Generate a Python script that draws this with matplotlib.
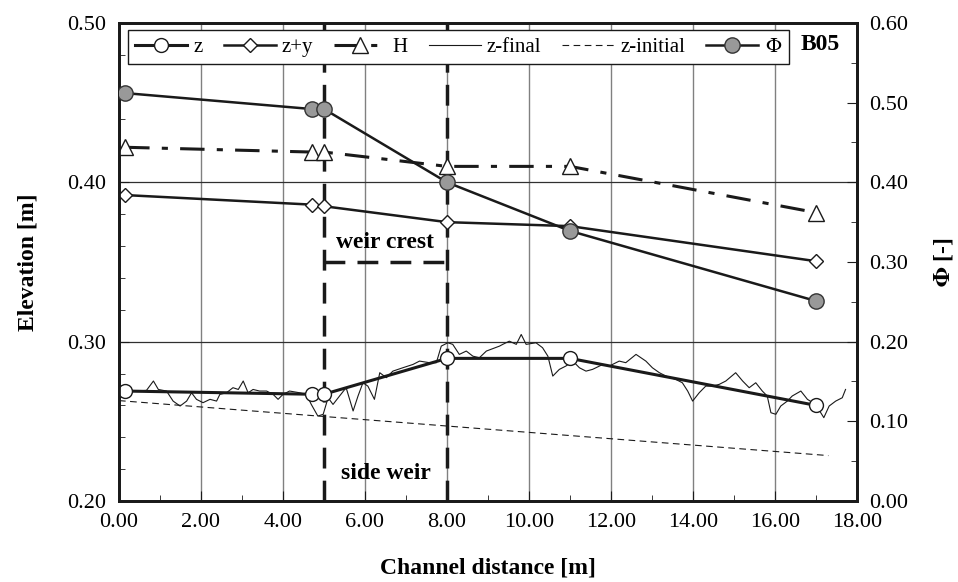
import matplotlib
matplotlib.use("Agg")
import matplotlib.pyplot as plt
from matplotlib.ticker import MultipleLocator, FormatStrFormatter

plt.rcParams['font.family'] = ['Liberation Serif', 'DejaVu Serif']
plt.rcParams['mathtext.fontset'] = 'stix'

# measured stations
x_pts = [0.15, 4.7, 5.0, 8.0, 11.0, 17.0]
z = [0.269, 0.267, 0.267, 0.2895, 0.2895, 0.260]
z_y = [0.392, 0.386, 0.385, 0.375, 0.3725, 0.3505]
H = [0.422, 0.419, 0.419, 0.410, 0.410, 0.381]
phi = [0.512, 0.492, 0.492, 0.400, 0.339, 0.251]

# bed profile after the run
xf = [0.02, 0.35, 0.67, 0.84, 0.96, 1.16, 1.32, 1.49, 1.65, 1.77, 1.89, 2.05,
      2.22, 2.38, 2.46, 2.62, 2.78, 2.91, 3.03, 3.15, 3.27, 3.43, 3.60, 3.76,
      3.88, 4.00, 4.16, 4.41, 4.57, 4.69, 4.85, 4.98, 5.10, 5.22, 5.38, 5.54,
      5.71, 5.83, 5.95, 6.07, 6.23, 6.36, 6.52, 6.68, 6.92, 7.17, 7.33, 7.57,
      7.74, 7.86, 8.02, 8.14, 8.30, 8.47, 8.63, 8.79, 8.96, 9.28, 9.36, 9.52,
      9.69, 9.81, 9.93, 10.17, 10.33, 10.46, 10.58, 10.74, 10.90, 11.07, 11.23,
      11.39, 11.55, 11.80, 11.96, 12.20, 12.36, 12.61, 12.85, 13.01, 13.18,
      13.34, 13.58, 13.74, 13.87, 13.99, 14.15, 14.31, 14.47, 14.64, 14.80,
      15.04, 15.21, 15.37, 15.53, 15.69, 15.81, 15.90, 16.02, 16.14, 16.30,
      16.42, 16.63, 16.79, 16.99, 17.19, 17.32, 17.48, 17.64, 17.72]
zf = [0.2648, 0.2690, 0.2694, 0.2753, 0.2700, 0.2690, 0.2627, 0.2596, 0.2627,
      0.2679, 0.2638, 0.2617, 0.2638, 0.2627, 0.2669, 0.2679, 0.2711, 0.2700,
      0.2753, 0.2679, 0.2700, 0.2690, 0.2690, 0.2669, 0.2638, 0.2669, 0.2690,
      0.2679, 0.2669, 0.2606, 0.2533, 0.2544, 0.2648, 0.2606, 0.2659, 0.2711,
      0.2565, 0.2659, 0.2742, 0.2721, 0.2638, 0.2805, 0.2774, 0.2815, 0.2836,
      0.2857, 0.2878, 0.2868, 0.2868, 0.2972, 0.2993, 0.2983, 0.2920, 0.2941,
      0.2909, 0.2899, 0.2941, 0.2972, 0.2983, 0.3003, 0.2983, 0.3045, 0.2983,
      0.2993, 0.2962, 0.2909, 0.2784, 0.2826, 0.2847, 0.2878, 0.2836, 0.2815,
      0.2826, 0.2857, 0.2847, 0.2878, 0.2868, 0.2920, 0.2878, 0.2836, 0.2805,
      0.2784, 0.2763, 0.2742, 0.2690, 0.2627, 0.2679, 0.2721, 0.2721, 0.2732,
      0.2753, 0.2805, 0.2753, 0.2711, 0.2742, 0.2690, 0.2659, 0.2554, 0.2544,
      0.2596, 0.2627, 0.2659, 0.2690, 0.2638, 0.2606, 0.2523, 0.2596, 0.2627,
      0.2648, 0.2700]

# initial bed
xi = [0.0, 17.3]
zi = [0.263, 0.2285]

weir_start, weir_end, weir_crest = 5.0, 8.0, 0.35

fig = plt.figure(figsize=(9.58, 5.82), dpi=100)
ax = fig.add_axes([0.1242, 0.1392, 0.7704, 0.8213])
ax2 = ax.twinx()

# grid
for gx in range(2, 18, 2):
    ax.axvline(gx, color='#808080', lw=1.0, zorder=0)
for gy in [0.30, 0.40]:
    ax.axhline(gy, color='#303030', lw=0.9, zorder=0)

# weir
ax.plot([weir_start, weir_start], [0.20, 0.50], color='#1a1a1a', lw=2.5, dashes=(6, 3.5), zorder=2)
ax.plot([weir_end, weir_end], [0.20, 0.50], color='#1a1a1a', lw=2.5, dashes=(6, 3.5), zorder=2)
ax.plot([weir_start, weir_end], [weir_crest, weir_crest], color='#1a1a1a', lw=2.5, dashes=(6, 3.5), zorder=2)
ax.text(6.5, 0.362, 'weir crest', ha='center', va='center', fontsize=17, fontweight='bold')
ax.text(6.5, 0.2175, 'side weir', ha='center', va='center', fontsize=17, fontweight='bold')

l_zf, = ax.plot(xf, zf, color='#1a1a1a', lw=0.8, zorder=3, label='z-final')
l_zi, = ax.plot(xi, zi, color='#1a1a1a', lw=0.8, dashes=(6, 4), zorder=3, label='z-initial')
l_z, = ax.plot(x_pts, z, color='#1a1a1a', lw=2.2, marker='o', ms=10, mfc='white', mec='#1a1a1a',
               mew=1.0, zorder=5, label='z')
l_zy, = ax.plot(x_pts, z_y, color='#1a1a1a', lw=1.8, marker='D', ms=7.5, mfc='white', mec='#1a1a1a',
                mew=1.0, zorder=5, label='z+y')
l_H, = ax.plot(x_pts, H, color='#1a1a1a', lw=2.2, dashes=(8, 4, 2, 4), marker='^', ms=11, mfc='white',
               mec='#1a1a1a', mew=1.0, zorder=5, label='H')
l_phi, = ax2.plot(x_pts, phi, color='#1a1a1a', lw=1.8, marker='o', ms=11, mfc='#999999',
                  mec='#333333', mew=1.0, zorder=5, label=r'$\Phi$')

ax.set_xlim(0, 18)
ax.set_ylim(0.20, 0.50)
ax2.set_ylim(0.0, 0.60)

ax.xaxis.set_major_locator(MultipleLocator(2))
ax.xaxis.set_minor_locator(MultipleLocator(1))
ax.yaxis.set_major_locator(MultipleLocator(0.1))
ax.yaxis.set_minor_locator(MultipleLocator(0.02))
ax2.yaxis.set_major_locator(MultipleLocator(0.1))
ax2.yaxis.set_minor_locator(MultipleLocator(0.05))
ax.xaxis.set_major_formatter(FormatStrFormatter('%.2f'))
ax.yaxis.set_major_formatter(FormatStrFormatter('%.2f'))
ax2.yaxis.set_major_formatter(FormatStrFormatter('%.2f'))

ax.tick_params(axis='both', which='both', direction='in', labelsize=16, color='#1a1a1a')
ax.tick_params(axis='both', which='major', length=7, pad=9)
ax.tick_params(axis='both', which='minor', length=4)
ax2.tick_params(axis='y', which='both', direction='in', labelsize=16, color='#1a1a1a')
ax2.tick_params(axis='y', which='major', length=7, pad=9)
ax2.tick_params(axis='y', which='minor', length=4)

for a in (ax, ax2):
    for s in a.spines.values():
        s.set_linewidth(2)
        s.set_color('#1a1a1a')

ax.set_xlabel('Channel distance [m]', fontsize=17, fontweight='bold', labelpad=18)
ax.set_ylabel('Elevation [m]', fontsize=17, fontweight='bold', labelpad=21)
ax2.set_ylabel(r'$\mathbf{\Phi}$ [-]', fontsize=17, fontweight='bold', labelpad=17)

ax2.text(0.95, 0.956, 'B05', transform=ax2.transAxes, ha='center', va='center',
         fontsize=17, fontweight='bold')

leg = ax2.legend(handles=[l_z, l_zy, l_H, l_zf, l_zi, l_phi], loc='upper left',
                 bbox_to_anchor=(0.012, 0.985), ncol=6, fontsize=15, frameon=True,
                 fancybox=False, framealpha=1, edgecolor='#1a1a1a', handlelength=2.5,
                 columnspacing=1.0, handletextpad=0.3, borderpad=0.35, borderaxespad=0)
leg.get_frame().set_linewidth(1.0)

plt.savefig('out.png', dpi=100)
